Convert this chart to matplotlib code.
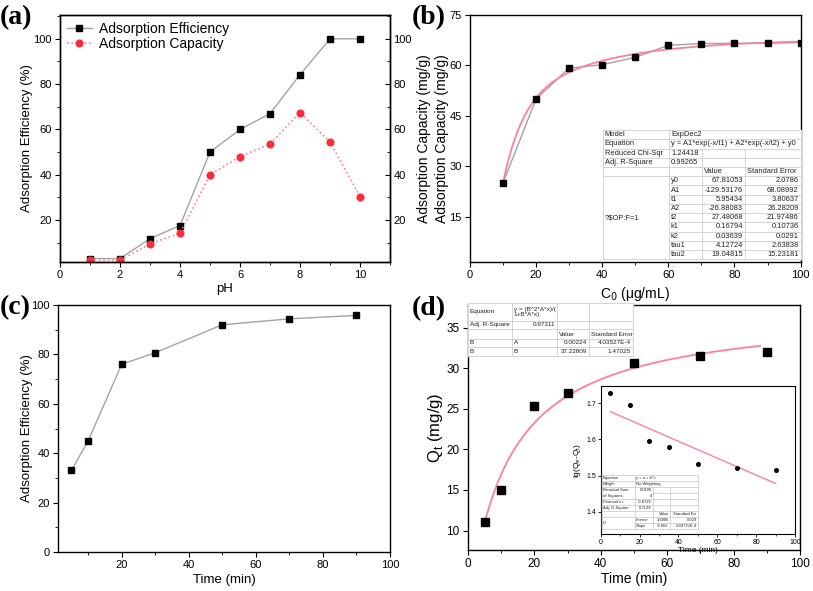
import numpy as np
import matplotlib.pyplot as plt
from matplotlib.ticker import MultipleLocator

plt.rcParams['font.family'] = ['Liberation Sans', 'DejaVu Sans']
plt.rcParams['axes.linewidth'] = 1.0
plt.rcParams['xtick.labelsize'] = 8
plt.rcParams['ytick.labelsize'] = 8
plt.rcParams['xtick.major.pad'] = 2.5
plt.rcParams['ytick.major.pad'] = 2.5

# (a) effect of pH
ph = [1, 2, 3, 4, 5, 6, 7, 8, 9, 10]
efficiency_ph = [3.0, 3.0, 11.8, 17.6, 50, 60, 67, 84.2, 100, 100]
capacity_ph = [2.2, 2.2, 9.5, 14.2, 40, 48, 53.6, 67.4, 54.4, 30.4]

# (b) effect of initial concentration
c0 = [10, 20, 30, 40, 50, 60, 70, 80, 90, 100]
capacity_c0 = [25, 50, 59.2, 60.2, 62.4, 66, 66.5, 66.6, 66.6, 66.8]
# ExpDec2 fit parameters (from the table in the chart)
y0, A1, t1, A2, t2 = 67.81053, -129.53176, 5.95434, -26.88083, 27.48068

# (c) effect of contact time
time_c = [5, 10, 20, 30, 50, 70, 90]
efficiency_t = [33, 45, 76, 80.7, 92, 94.4, 95.8]

# (d) kinetics
time_d = [5, 10, 20, 30, 50, 70, 90]
qt = [11, 15, 25.3, 26.9, 30.7, 31.5, 32]
fit_A, fit_B = 0.00224, 37.22809

# (d) inset: lg(Qe-Qt) vs time
time_in = [5, 15, 25, 35, 50, 70, 90]
lg_q = [1.729, 1.696, 1.596, 1.578, 1.532, 1.522, 1.516]
lin_a, lin_b = 1.6886, -0.00234

table_b = [
    ["Model", "ExpDec2", "", ""],
    ["Equation", "y = A1*exp(-x/t1) + A2*exp(-x/t2) + y0", "", ""],
    ["Reduced Chi-Sqr", "1.24418", "", ""],
    ["Adj. R-Square", "0.99265", "", ""],
    ["", "", "Value", "Standard Error"],
    ["", "y0", "67.81053", "2.0786"],
    ["", "A1", "-129.53176", "68.08992"],
    ["", "t1", "5.95434", "3.80637"],
    ["", "A2", "-26.88083", "26.28209"],
    ["?$OP:F=1", "t2", "27.48068", "21.97486"],
    ["", "k1", "0.16794", "0.10736"],
    ["", "k2", "0.03639", "0.0291"],
    ["", "tau1", "4.12724", "2.63838"],
    ["", "tau2", "19.04815", "15.23181"],
]
table_d = [
    ["Equation", "y = (B^2*A*x)/(\n1+B*A*x)", "", ""],
    ["Adj. R-Square", "0.97311", "", ""],
    ["", "", "Value", "Standard Error"],
    ["B", "A", "0.00224", "4.03527E-4"],
    ["B", "B", "37.22809", "1.47025"],
]
table_in = [
    ["Equation", "y = a + b*x", "", ""],
    ["Weight", "No Weighting", "", ""],
    ["Residual Sum", "0.0106", "", ""],
    ["of Squares", "4", "", ""],
    ["Pearson's r", "-0.8726", "", ""],
    ["Adj. R-Square", "0.7139", "", ""],
    ["", "", "Value", "Standard Err"],
    ["D", "Interce", "1.6886", "0.029"],
    ["", "Slope", "-0.002", "5.89715E-4"],
]

GRAY = '#a3a3a3'
PINK = '#ff7fa0'
TXT = '#222222'


def draw_table(ax, cells, xs, ys, fs, aligns, hstart=None, vstart=None, move=None):
    lc = '#cfcfcf'
    tr = ax.transAxes
    ax.fill_between([xs[0], xs[-1]], ys[-1], ys[0], transform=tr,
                    color='white', zorder=5, clip_on=False)
    hstart = hstart or {}
    vstart = vstart or {}
    for i, y in enumerate(ys):
        c = hstart.get(i, 0)
        ax.plot([xs[c], xs[-1]], [y, y], transform=tr, color=lc, lw=0.6,
                zorder=6, clip_on=False)
    for j, x in enumerate(xs):
        r = vstart.get(j, 0)
        ax.plot([x, x], [ys[r], ys[-1]], transform=tr, color=lc, lw=0.6,
                zorder=6, clip_on=False)
    for i, row in enumerate(cells):
        for j, s in enumerate(row):
            if not s:
                continue
            ha = aligns[i][j]
            pad = 0.006
            if ha == 'left':
                x = xs[j] + pad
            elif ha == 'right':
                x = xs[j + 1] - pad
            else:
                x = (xs[j] + xs[j + 1]) / 2
            y = (ys[i] + ys[i + 1]) / 2
            if move and (i, j) in move:
                y = move[(i, j)]
            ax.text(x, y, s, transform=tr, ha=ha, va='center', fontsize=fs,
                    color=TXT, zorder=7, linespacing=0.9, clip_on=False)


fig = plt.figure(figsize=(8.13, 5.91), dpi=100)

# ---------- (a)
ax = fig.add_axes([0.0738, 0.5567, 0.406, 0.4179])
ax.plot(ph, efficiency_ph, '-', color=GRAY, lw=1.0, marker='s', ms=4.5,
        mfc='black', mec='black', label='Adsorption Efficiency')
ax.plot(ph, capacity_ph, ':', color=PINK, lw=1.2, marker='o', ms=4.8,
        mfc='#ff2a3a', mec='#ff2a3a', label='Adsorption Capacity')
ax.set_xlim(0, 11)
ax.set_ylim(1.5, 110.5)
ax.xaxis.set_major_locator(MultipleLocator(2))
ax.xaxis.set_minor_locator(MultipleLocator(1))
ax.yaxis.set_minor_locator(MultipleLocator(10))
ax.set_yticks([20, 40, 60, 80, 100])
ax.tick_params(top=False, right=False)
ax.set_xlabel('pH', fontsize=9.5)
ax.set_ylabel('Adsorption Efficiency (%)', fontsize=9.5)
ax.yaxis.set_label_coords(-0.082, 0.5)
ax.xaxis.set_label_coords(0.5, -0.085)
ax.legend(loc='upper left', frameon=False, fontsize=10, handlelength=1.8,
          handletextpad=0.5, borderaxespad=0.1, labelspacing=0.1)
axr = ax.twinx()
axr.set_ylim(ax.get_ylim())
axr.set_yticks([20, 40, 60, 80, 100])
axr.yaxis.set_minor_locator(MultipleLocator(10))
axr.tick_params(axis='y', which='both', direction='in')

# ---------- (b)
ax = fig.add_axes([0.578, 0.5567, 0.4068, 0.4179])
xf = np.linspace(min(c0), max(c0), 200)
yf = A1 * np.exp(-xf / t1) + A2 * np.exp(-xf / t2) + y0
ax.plot(c0, capacity_c0, '-', color=GRAY, lw=1.0, zorder=2)
ax.plot(xf, yf, '-', color=PINK, lw=1.3, zorder=3)
ax.plot(c0, capacity_c0, 's', ms=5, color='black', zorder=4)
ax.set_xlim(0, 100)
ax.set_ylim(1.5, 75)
ax.xaxis.set_major_locator(MultipleLocator(20))
ax.xaxis.set_minor_locator(MultipleLocator(10))
ax.set_yticks([15, 30, 45, 60, 75])
ax.set_xlabel(r'C$_0$ ($\mathregular{\mu}$g/mL)', fontsize=10)
ax.xaxis.set_label_coords(0.5, -0.095)
for xl in (-0.138, -0.085):
    ax.text(xl, 0.5, 'Adsorption Capacity (mg/g)', transform=ax.transAxes,
            rotation=90, ha='center', va='center', fontsize=10)
xs_b = [0.402, 0.602, 0.702, 0.832, 1.0]
ys_b = list(np.linspace(0.534, 0.011, 15))
al_b = [['left', 'left', 'left', 'left']] * 5 + \
       [['left', 'left', 'right', 'right']] * 9
draw_table(ax, table_b, xs_b, ys_b, 5.4, al_b,
           hstart={k: 1 for k in range(6, 14)}, vstart={2: 2, 3: 2})

# ---------- (c)
ax = fig.add_axes([0.0713, 0.066, 0.4084, 0.4179])
ax.plot(time_c, efficiency_t, '-', color=GRAY, lw=1.0, marker='s', ms=4.5,
        mfc='black', mec='black')
ax.set_xlim(1, 100)
ax.set_ylim(0, 100)
ax.xaxis.set_major_locator(MultipleLocator(20))
ax.xaxis.set_minor_locator(MultipleLocator(10))
ax.yaxis.set_major_locator(MultipleLocator(20))
ax.yaxis.set_minor_locator(MultipleLocator(10))
ax.set_xlabel('Time (min)', fontsize=9.5)
ax.xaxis.set_label_coords(0.5, -0.09)
ax.set_ylabel('Adsorption Efficiency (%)', fontsize=9.5)
ax.yaxis.set_label_coords(-0.075, 0.5)

# ---------- (d)
ax = fig.add_axes([0.5756, 0.0694, 0.4084, 0.4145])
xf = np.linspace(min(time_d), max(time_d) - 2, 200)
yf = fit_B ** 2 * fit_A * xf / (1 + fit_B * fit_A * xf)
ax.plot(xf, yf, '-', color=PINK, lw=1.3, zorder=2)
ax.plot(time_d, qt, 's', ms=5.2, color='black', zorder=3)
ax.set_xlim(0, 100)
ax.set_ylim(7.6, 37.8)
ax.xaxis.set_major_locator(MultipleLocator(20))
ax.xaxis.set_minor_locator(MultipleLocator(10))
ax.yaxis.set_major_locator(MultipleLocator(5))
ax.tick_params(labelsize=8.5)
ax.set_xlabel('Time (min)', fontsize=10)
ax.xaxis.set_label_coords(0.5, -0.09)
ax.set_ylabel(r'Q$_\mathregular{t}$ (mg/g)', fontsize=12)
ax.yaxis.set_label_coords(-0.07, 0.5)
xs_d = [0.0, 0.1325, 0.268, 0.364, 0.497]
ys_d = [1.008, 0.935, 0.902, 0.861, 0.829, 0.792]
al_d = [['left', 'left', 'left', 'left'],
        ['left', 'right', 'left', 'left'],
        ['left', 'left', 'left', 'left'],
        ['left', 'left', 'right', 'right'],
        ['left', 'left', 'right', 'right']]
draw_table(ax, table_d, xs_d, ys_d, 4.6, al_d)

# inset
axi = fig.add_axes([0.7389, 0.0964, 0.239, 0.2504])
axi.plot([5, 90], [lin_a + lin_b * 5, lin_a + lin_b * 90], '-', color=PINK,
         lw=1.0)
axi.plot(time_in, lg_q, 'o', ms=2.6, color='black')
axi.set_xlim(0, 100)
axi.set_ylim(1.338, 1.748)
axi.xaxis.set_major_locator(MultipleLocator(20))
axi.xaxis.set_minor_locator(MultipleLocator(10))
axi.yaxis.set_major_locator(MultipleLocator(0.1))
axi.tick_params(labelsize=5, length=2, width=0.6, pad=1.5)
axi.tick_params(which='minor', length=1.2, width=0.5)
for s in axi.spines.values():
    s.set_linewidth(0.8)
axi.set_xlabel('Time (min)', fontsize=6, labelpad=1)
axi.set_ylabel(r'lg(Q$_\mathregular{e}$-Q$_\mathregular{t}$)', fontsize=6,
               labelpad=2)
xs_i = [0.005, 0.176, 0.269, 0.356, 0.5]
ys_i = list(np.linspace(0.399, 0.034, 10))
al_i = [['left', 'left', 'left', 'left']] * 2 + \
       [['left', 'right', 'left', 'left']] * 4 + \
       [['left', 'left', 'right', 'right']] * 3
draw_table(axi, table_in, xs_i, ys_i, 3.0, al_i,
           hstart={3: 2, 8: 1}, vstart={2: 2, 3: 2},
           move={(7, 0): ys_i[8]})

# panel labels
for lbl, x, y in [('(a)', 0.0, 0.97), ('(b)', 0.507, 0.97),
                  ('(c)', 0.0, 0.479), ('(d)', 0.507, 0.478)]:
    fig.text(x, y, lbl, fontsize=20, fontweight='bold',
             family='Liberation Serif', va='center')

fig.savefig('out.png', dpi=100)
